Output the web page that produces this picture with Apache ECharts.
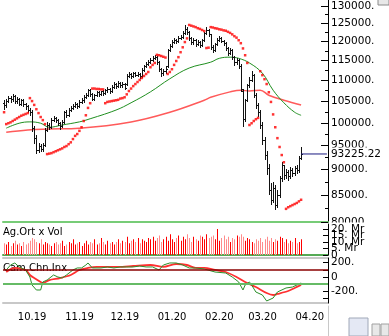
<!DOCTYPE html>
<html><head><meta charset="utf-8">
<script src="https://cdn.jsdelivr.net/npm/echarts@6/dist/echarts.min.js"></script>
<style>html,body{margin:0;padding:0;background:#fff;overflow:hidden}#c{width:389px;height:336px}</style>
</head><body><div id="c"></div>
<script>
// ---- DATA ----
const categories = ('24.09.19 25.09.19 26.09.19 27.09.19 30.09.19 ' +
'01.10.19 02.10.19 03.10.19 04.10.19 07.10.19 08.10.19 09.10.19 10.10.19 11.10.19 14.10.19 15.10.19 16.10.19 17.10.19 18.10.19 21.10.19 22.10.19 23.10.19 24.10.19 25.10.19 28.10.19 30.10.19 31.10.19 ' +
'01.11.19 04.11.19 05.11.19 06.11.19 07.11.19 08.11.19 11.11.19 12.11.19 13.11.19 14.11.19 15.11.19 18.11.19 19.11.19 20.11.19 21.11.19 22.11.19 25.11.19 26.11.19 27.11.19 28.11.19 29.11.19 ' +
'02.12.19 03.12.19 04.12.19 05.12.19 06.12.19 09.12.19 10.12.19 11.12.19 12.12.19 13.12.19 16.12.19 17.12.19 18.12.19 19.12.19 20.12.19 23.12.19 24.12.19 25.12.19 26.12.19 27.12.19 30.12.19 31.12.19 ' +
'02.01.20 03.01.20 06.01.20 07.01.20 08.01.20 09.01.20 10.01.20 13.01.20 14.01.20 15.01.20 16.01.20 17.01.20 20.01.20 21.01.20 22.01.20 23.01.20 24.01.20 27.01.20 28.01.20 29.01.20 30.01.20 31.01.20 ' +
'03.02.20 04.02.20 05.02.20 06.02.20 07.02.20 10.02.20 11.02.20 12.02.20 13.02.20 14.02.20 17.02.20 18.02.20 19.02.20 20.02.20 21.02.20 24.02.20 25.02.20 26.02.20 27.02.20 28.02.20 ' +
'02.03.20 03.03.20 04.03.20 05.03.20 06.03.20 09.03.20 10.03.20 11.03.20 12.03.20 13.03.20 16.03.20 17.03.20 18.03.20 19.03.20 20.03.20 23.03.20 24.03.20 25.03.20 26.03.20 27.03.20 30.03.20 31.03.20 ' +
'01.04.20 02.04.20 03.04.20 06.04.20 07.04.20').split(' ');

// prices in thousands
const opens = [104.5,104.0,105.0,105.8,105.4,106.1,105.0,105.5,104.4,105.2,
104.2,103.8,102.9,102.4,98.8,96.6,94.0,94.9,94.2,95.1,
98.4,99.5,99.0,100.6,101.1,100.6,99.9,99.3,100.2,102.4,
101.7,102.9,103.4,103.8,104.3,103.8,104.8,105.2,106.0,106.5,
107.6,106.7,105.6,106.4,107.1,106.7,107.4,106.9,107.6,107.9,
107.4,108.4,109.1,108.6,109.3,108.8,109.1,109.0,111.1,111.6,
111.1,111.8,111.4,111.6,111.1,112.6,113.6,114.1,114.6,115.1,
115.7,115.9,114.6,112.8,111.8,112.3,113.5,117.7,118.8,119.9,
120.4,120.2,121.0,121.2,122.3,123.5,122.6,121.0,119.9,120.4,
119.3,119.9,119.0,120.4,122.3,123.1,122.0,118.6,117.7,119.3,
120.4,121.0,120.2,119.6,118.3,117.0,117.7,115.9,114.6,115.1,
113.6,107.5,100.8,105.2,108.8,110.1,111.4,106.5,104.1,102.4,
99.5,96.2,93.0,90.3,86.0,84.0,86.3,83.2,85.0,88.3,
90.9,88.9,89.5,88.7,89.9,89.3,90.3,89.9,92.4];
const closes = [104.0,105.0,105.8,105.4,106.1,105.0,105.5,104.4,105.2,104.2,
103.8,102.9,102.4,98.8,96.6,94.0,94.9,94.2,95.1,98.4,
99.5,99.0,100.6,101.1,100.6,99.9,99.3,100.2,102.4,101.7,
102.9,103.4,103.8,104.3,103.8,104.8,105.2,106.0,106.5,107.6,
106.7,105.6,106.4,107.1,106.7,107.4,106.9,107.6,107.9,107.4,
108.4,109.1,108.6,109.3,108.8,109.1,108.2,111.1,111.6,111.1,
111.8,111.4,111.6,111.1,112.6,113.6,114.1,114.6,115.1,115.7,
115.9,114.6,112.8,111.8,112.3,112.8,117.7,118.8,119.9,120.4,
120.2,121.0,121.2,122.3,123.5,122.6,121.0,119.9,120.4,119.3,
119.9,119.0,120.4,122.3,123.1,122.0,118.6,117.7,119.3,120.4,
121.0,120.2,119.6,118.3,117.0,117.7,115.9,114.6,115.1,113.6,
108.0,100.8,105.2,108.8,110.1,111.4,106.5,104.1,102.4,99.5,
96.2,93.0,90.3,86.0,84.0,86.3,83.2,85.0,88.3,90.9,
88.9,89.5,88.7,89.9,89.3,90.3,89.9,92.4,93.22522];
const highs = [105.2,105.5,106.2,106.3,106.6,106.4,106.0,105.8,105.6,105.4,
104.6,104.0,103.3,102.8,99.3,97.2,95.5,95.4,95.6,98.8,
100.2,99.9,101.0,101.6,101.4,100.9,100.2,100.6,102.7,102.8,
103.3,103.9,104.3,104.7,104.6,105.2,105.7,106.4,107.0,108.0,
107.9,107.0,106.8,107.5,107.5,107.5,107.7,108.0,108.4,108.2,
108.8,109.6,109.4,109.8,109.6,109.6,109.3,111.5,112.1,111.9,
112.2,112.1,112.0,111.9,113.0,114.0,114.6,115.1,115.6,116.2,
116.5,116.1,114.8,113.1,112.8,113.5,118.1,119.3,120.4,120.9,
120.8,121.5,121.8,122.8,124.6,123.9,122.9,121.3,120.9,120.6,
120.4,120.2,120.8,122.7,124.0,123.5,122.2,119.0,119.7,120.9,
121.6,121.3,120.5,119.8,118.6,118.2,118.0,116.2,115.6,115.4,
114.2,108.0,105.6,109.2,110.8,112.3,111.7,106.9,104.6,102.8,
100.2,96.8,93.8,91.2,87.4,87.6,87.0,86.0,88.8,91.6,
91.0,90.2,89.9,90.5,90.4,90.8,90.9,92.8,94.8];
const lows = [103.2,103.7,104.7,104.9,105.0,104.6,104.6,104.0,104.1,103.8,
103.2,102.4,101.8,98.2,95.6,93.5,93.6,93.8,93.9,95.0,
98.1,98.5,98.8,100.3,100.1,99.4,98.7,99.1,100.0,101.3,
101.5,102.6,103.1,103.5,103.3,103.6,104.5,104.9,105.7,106.3,
106.3,105.2,105.3,106.1,106.3,106.4,106.5,106.6,107.2,107.0,
107.2,108.1,108.2,108.3,108.4,108.5,107.8,108.8,110.8,110.7,
110.9,111.0,111.0,110.6,110.9,112.4,113.3,113.8,114.3,114.8,
115.3,114.2,112.3,111.2,111.4,111.9,113.3,117.4,118.5,119.6,
119.7,119.9,120.6,120.9,122.0,122.1,120.5,119.4,119.5,118.9,
119.0,118.5,118.8,120.2,122.0,121.6,118.1,117.2,117.5,119.0,
120.1,119.8,119.1,117.8,116.5,116.8,115.5,114.0,114.2,113.1,
107.5,99.3,100.5,105.0,108.4,109.8,106.0,103.4,101.6,98.9,
95.3,92.1,89.2,85.2,83.3,83.6,82.4,82.8,84.6,87.8,
88.2,88.3,88.0,88.4,88.8,89.0,89.4,89.6,92.1];
// parabolic SAR dots (thousands)
const sar = [102.4,99.7,99.9,100.1,100.4,100.7,101.0,101.3,101.6,101.8,
102.0,102.2,105.7,105.0,104.1,103.1,102.2,101.3,100.6,99.7,
93.2,93.3,93.4,93.6,93.8,94.0,94.2,94.4,94.7,94.9,
95.3,95.7,96.4,97.1,97.5,98.2,99.0,100.4,101.7,103.4,
104.5,108.0,108.0,107.9,107.9,107.8,107.8,104.5,104.8,104.9,
105.0,105.1,105.2,105.3,105.6,105.7,105.9,106.6,107.4,108.0,
108.6,109.1,109.6,110.1,110.6,111.1,111.6,112.1,113.3,113.9,
114.4,116.5,116.4,116.2,116.0,115.8,111.6,112.1,112.8,113.9,
114.9,115.9,117.2,118.5,119.9,120.9,124.6,124.4,124.2,124.0,
123.7,123.5,123.2,122.9,118.3,118.4,124.0,123.9,123.7,123.6,
123.4,123.3,123.1,123.0,122.7,122.4,122.0,121.5,121.1,120.4,
119.6,118.2,116.4,114.4,99.5,99.9,100.4,100.8,101.1,112.3,
111.3,110.3,109.1,107.1,104.8,101.9,99.0,96.6,94.7,93.0,
91.5,82.4,82.7,82.9,83.1,83.3,83.5,83.8,84.1];
// moving averages: [bar index, value in thousands]
const maGreen = [[1,98.8],[7,99.9],[12,100.2],[17,99.9],[21,99.0],[27,99.5],[35,100.2],[38,100.6],[52,102.9],[59,104.6],[68,107.2],[77,110.4],[86,113.1],[96,114.6],[100,115.6],[105,115.9],[109,115.6],[114,114.4],[120,111.8],[125,107.6],[130,104.6],[135,102.4],[138,101.7]];
const maRed = [[1,97.9],[11,98.4],[21,98.6],[35,98.8],[59,100.2],[77,102.4],[93,105.2],[96,105.9],[105,107.2],[110,107.6],[114,107.4],[119,107.6],[123,106.4],[130,105.2],[138,104.1]];
const volumes = [9,8,10,7,9,11,8,9,7,10,
8,9,11,13,12,10,9,12,8,10,
9,8,7,9,10,8,9,11,7,8,
10,9,12,8,9,10,7,9,11,8,
10,9,12,8,9,13,10,8,11,9,
10,8,10,12,9,11,10,14,9,11,
12,10,13,9,12,11,10,13,12,14,
11,13,15,10,12,14,11,16,12,10,
13,15,11,14,12,16,13,10,14,12,
11,15,14,12,16,13,14,15,12,20,
11,13,15,12,14,10,13,12,15,14,
16,14,11,13,12,10,9,12,11,13,
10,12,14,11,13,10,12,11,14,13,
10,12,9,11,10,13,9,10,12];
const cciPoints = [[1,97],[3,166],[5,194],[7,139],[10,97],[12,0],[13,-111],[15,-180],[17,-180],[18,-69],[20,-42],[23,28],[25,0],[27,-14],[29,28],[32,97],[34,125],[36,125],[38,166],[39,194],[41,125],[45,125],[48,139],[51,125],[54,139],[57,139],[60,139],[63,152],[66,139],[69,139],[72,97],[74,166],[77,194],[80,194],[83,166],[86,125],[89,125],[93,111],[98,69],[103,55],[106,0],[109,-69],[111,-180],[112,-111],[114,-69],[115,-111],[117,-208],[120,-249],[122,-332],[125,-291],[127,-208],[131,-152],[134,-139],[137,-97],[138,-83]];
const cciSignal = [[1,69],[5,125],[10,97],[12,28],[14,-14],[17,-69],[18,-83],[21,-42],[26,-14],[31,28],[35,97],[39,125],[43,139],[53,139],[60,152],[68,166],[74,139],[80,180],[85,166],[89,125],[93,125],[98,97],[103,69],[108,0],[112,-69],[117,-139],[122,-222],[125,-249],[127,-235],[132,-194],[135,-152],[138,-111]];
const cciLevels = [100, -100];
const priceTicks = [80000,85000,90000,95000,100000,105000,110000,115000,120000,125000,130000];
const priceMinorTicks = [82500,87500,92500,97500,102500,107500,112500,117500,122500,127500];
const volumeTicks = [0,5,10,15,20];
const volumeLabelsA = [0,15];
const volumeLabelsB = [5,20];
const volumeLabelsC = [10];
const cciTicks = [-300,-200,-100,0,100,200];
const cciLabels = [-200,0,200];
const lastPrice = 93225.22;
const lastPriceLabel = '93225.22';

// ---- CHART ----
const FONT = 'DejaVu Sans';
const K = 1000;
const PMIN = 80000, PMAX = 131800;
const VMAX = 23.8;
const nBars = closes.length;
const isMonthStart = (idx) => idx > 0 && idx < categories.length && categories[idx].slice(3) !== categories[idx - 1].slice(3);

const ohlcData = closes.map((c, i) => [i, opens[i] * K, c * K, lows[i] * K, highs[i] * K]);
const volData = volumes.map((v, i) => [i, v, closes[i] >= opens[i] ? 1 : 0]);
const sarData = sar.map((v, i) => [i, v * K]);
const toFull = (arr) => arr.map(p => [p[0], p[1] * K]);

const hidden = {show: false};
const catAxis = (grid, extra) => Object.assign({
  type: 'category', gridIndex: grid, data: categories, max: 150, boundaryGap: true,
  axisLine: hidden, axisTick: hidden, axisLabel: hidden, splitLine: hidden
}, extra);
const volLabelAxis = (vals) => ({
  type: 'value', gridIndex: 1, min: 0, max: VMAX, position: 'right', z: 3,
  axisLine: hidden, axisTick: hidden, splitLine: hidden,
  axisLabel: {show: true, margin: 3, showMinLabel: true, showMaxLabel: true, customValues: vals,
    formatter: (v) => (v === 0 ? '0' : v + '. Mr'), fontSize: 10.5, fontFamily: FONT, color: '#000'}
});

const chart = echarts.init(document.getElementById('c'), null, {renderer: 'canvas'});
chart.setOption({
  animation: false,
  backgroundColor: '#fff',
  title: [
    {text: 'Ag.Ort x Vol', left: 3, top: 227, padding: 0, z: 0,
     textStyle: {fontSize: 10, fontWeight: 'normal', fontFamily: FONT, color: '#000'}},
    {text: 'Cam.Chn.Inx', left: 3, top: 263, padding: 0, z: 0,
     textStyle: {fontSize: 10, fontWeight: 'normal', fontFamily: FONT, color: '#000'}}
  ],
  grid: [
    {left: 3, right: 61, top: 0, height: 222, outerBoundsMode: 'none'},
    {left: 3, right: 61, top: 224, height: 31, outerBoundsMode: 'none'},
    {left: 3, right: 61, top: 258, height: 45, outerBoundsMode: 'none'},
    {left: 3, right: 61, top: 306, height: 30, outerBoundsMode: 'none'}
  ],
  xAxis: [
    catAxis(0, {axisLine: {show: true, onZero: false, lineStyle: {color: '#77cc77', width: 2}}}),
    catAxis(1, {axisLine: {show: true, onZero: false, lineStyle: {color: '#55aa55', width: 2}}}),
    catAxis(2, {axisLine: {show: true, onZero: false, lineStyle: {color: '#c8c8c8', width: 2}}}),
    catAxis(2, {position: 'top', axisLine: {show: true, onZero: false, lineStyle: {color: '#c8c8c8', width: 2}}}),
    catAxis(3, {position: 'top',
      axisTick: {show: true, inside: true, alignWithLabel: true, length: 16,
        interval: (idx) => isMonthStart(idx), lineStyle: {color: '#000', width: 1}},
      axisLabel: {show: true, inside: true, margin: 6, align: 'left', padding: [0, 0, 0, 3],
        interval: (idx) => isMonthStart(idx), formatter: (v) => (v ? v.slice(3) : ''),
        fontSize: 10, fontFamily: FONT, color: '#000'}})
  ],
  yAxis: [
    {type: 'log', logBase: 10, gridIndex: 0, min: PMIN, max: PMAX, position: 'right',
     axisLine: {show: true, lineStyle: {color: '#000', width: 1}}, axisTick: hidden, axisLabel: hidden, splitLine: hidden},
    {type: 'value', gridIndex: 0, min: Math.log10(PMIN), max: Math.log10(PMAX), position: 'right', z: 0,
     axisLine: hidden, splitLine: hidden,
     axisTick: {show: true, inside: true, length: 7, customValues: priceTicks.map(Math.log10), lineStyle: {color: '#000'}},
     axisLabel: {show: true, margin: 3, showMinLabel: true, showMaxLabel: true, customValues: priceTicks.map(Math.log10),
       formatter: (v) => Math.round(Math.pow(10, v)) + '.', fontSize: 10.5, fontFamily: FONT, color: '#000'}},
    {type: 'value', gridIndex: 0, min: Math.log10(PMIN), max: Math.log10(PMAX), position: 'right',
     axisLine: hidden, splitLine: hidden, axisLabel: hidden,
     axisTick: {show: true, inside: true, length: 3, customValues: priceMinorTicks.map(Math.log10), lineStyle: {color: '#000'}}},
    {type: 'value', gridIndex: 1, min: 0, max: VMAX, position: 'right', z: 3,
     axisLine: {show: true, lineStyle: {color: '#000'}}, splitLine: hidden,
     axisTick: {show: true, inside: true, length: 5, customValues: volumeTicks, lineStyle: {color: '#000'}},
     axisLabel: hidden},
    {type: 'value', gridIndex: 2, min: -360, max: 263, position: 'right', z: 3,
     axisLine: {show: true, lineStyle: {color: '#000'}}, splitLine: hidden,
     axisTick: {show: true, inside: true, length: 5, customValues: cciTicks, lineStyle: {color: '#000'}},
     axisLabel: {show: true, margin: 3, showMinLabel: true, showMaxLabel: true, customValues: cciLabels,
       formatter: (v) => (v === 0 ? '0' : v + '.'), fontSize: 10.5, fontFamily: FONT, color: '#000'}},
    {type: 'value', gridIndex: 3, min: 0, max: 1, position: 'right',
     axisLine: {show: true, lineStyle: {color: '#c8c8c8', width: 1}}, axisTick: hidden, axisLabel: hidden, splitLine: hidden},
    volLabelAxis(volumeLabelsA),
    volLabelAxis(volumeLabelsB),
    volLabelAxis(volumeLabelsC)
  ],
  graphic: [
    {type: 'rect', z: 1, shape: {x: 329, y: 222.5, width: 60, height: 5}, style: {fill: '#fff'}},
    {type: 'rect', z: 1, shape: {x: 378, y: -6, width: 11, height: 11}, style: {fill: '#e8e8e8', stroke: '#8a8a8a', lineWidth: 1}},
    {type: 'rect', z: 1, shape: {x: 349, y: 318, width: 19, height: 18}, style: {fill: '#e4e8f4', stroke: '#a0a8b8', lineWidth: 1}},
    {type: 'rect', z: 1, shape: {x: 372, y: 324, width: 8, height: 12}, style: {fill: '#e8e8e8', stroke: '#a0a0a0', lineWidth: 1}},
    {type: 'rect', z: 1, shape: {x: 381, y: 324, width: 8, height: 12}, style: {fill: '#e8e8e8', stroke: '#a0a0a0', lineWidth: 1}}
  ],
  series: [
    {name: 'maRed', type: 'line', xAxisIndex: 0, yAxisIndex: 0, data: toFull(maRed), smooth: 0.4,
     showSymbol: false, silent: true, z: 2, lineStyle: {color: '#ff5a5a', width: 1.5}},
    {name: 'maGreen', type: 'line', xAxisIndex: 0, yAxisIndex: 0, data: toFull(maGreen), smooth: 0.4,
     showSymbol: false, silent: true, z: 2, lineStyle: {color: '#1f8f1f', width: 1}},
    {name: 'ohlc', type: 'custom', xAxisIndex: 0, yAxisIndex: 0, data: ohlcData, z: 3, silent: true,
     encode: {x: 0, y: [1, 2, 3, 4]},
     renderItem: (params, api) => {
       const i = api.value(0);
       const o = api.coord([i, api.value(1)]);
       const c = api.coord([i, api.value(2)]);
       const l = api.coord([i, api.value(3)]);
       const h = api.coord([i, api.value(4)]);
       const X = Math.round(h[0]);
       const st = {stroke: '#111', lineWidth: 1};
       const yo = Math.round(o[1]) + 0.5, yc = Math.round(c[1]) + 0.5;
       return {type: 'group', children: [
         {type: 'line', shape: {x1: X + 0.5, y1: Math.round(h[1]), x2: X + 0.5, y2: Math.round(l[1]) + 1}, style: st},
         {type: 'line', shape: {x1: X - 1, y1: yo, x2: X, y2: yo}, style: st},
         {type: 'line', shape: {x1: X + 1, y1: yc, x2: X + 2, y2: yc}, style: st}
       ]};
     }},
    {name: 'sar', type: 'scatter', xAxisIndex: 0, yAxisIndex: 0, data: sarData, z: 4, silent: true,
     symbol: 'rect', symbolSize: [2.5, 2.5], itemStyle: {color: '#ff0000'}},
    {name: 'last', type: 'line', xAxisIndex: 0, yAxisIndex: 0, data: [[nBars - 1, lastPrice], [150, lastPrice]],
     showSymbol: false, silent: true, z: 5, lineStyle: {color: '#1a1a80', width: 1},
     endLabel: {show: true, formatter: () => lastPriceLabel, distance: 3, fontSize: 10.5, fontFamily: FONT,
       color: '#000', backgroundColor: '#fff', padding: [1, 1, 1, 1]}},
    {name: 'vol', type: 'custom', xAxisIndex: 1, yAxisIndex: 3, data: volData, silent: true,
     encode: {x: 0, y: 1},
     renderItem: (params, api) => {
       const i = api.value(0);
       const p0 = api.coord([i, 0]);
       const p1 = api.coord([i, api.value(1)]);
       const X = Math.round(p0[0]);
       return {type: 'rect', shape: {x: X, y: p1[1], width: 1, height: p0[1] - p1[1]},
         style: {fill: api.value(2) ? '#ff0000' : '#ff8c8c'}};
     }},
    {name: 'levels', type: 'line', xAxisIndex: 2, yAxisIndex: 4, data: [], silent: true, z: 1,
     markLine: {silent: true, symbol: 'none', label: {show: false},
       data: [{yAxis: cciLevels[0], lineStyle: {color: '#8a0000', width: 1.5, type: 'solid'}},
              {yAxis: cciLevels[1], lineStyle: {color: '#66bb66', width: 2, type: 'solid'}}]}},
    {name: 'cciSig', type: 'line', xAxisIndex: 2, yAxisIndex: 4, data: cciSignal, smooth: 0.3,
     showSymbol: false, silent: true, z: 2, lineStyle: {color: '#ff3030', width: 1.8}},
    {name: 'cci', type: 'line', xAxisIndex: 2, yAxisIndex: 4, data: cciPoints,
     showSymbol: false, silent: true, z: 3, lineStyle: {color: '#2a8f2a', width: 1}}
  ]
});
</script></body></html>
